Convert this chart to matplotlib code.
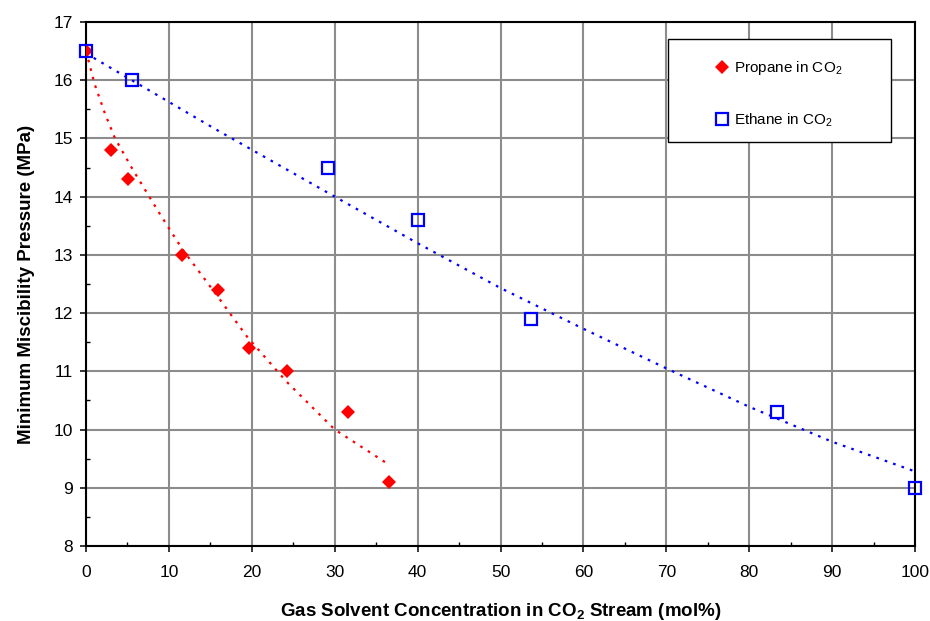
import matplotlib
matplotlib.use("Agg")
import matplotlib.pyplot as plt
from matplotlib.patches import Rectangle
from matplotlib.ticker import MultipleLocator

plt.rcParams['font.family'] = ['Liberation Sans', 'DejaVu Sans']
plt.rcParams['mathtext.fontset'] = 'custom'
plt.rcParams['mathtext.rm'] = 'Liberation Sans'
plt.rcParams['mathtext.it'] = 'Liberation Sans:italic'
plt.rcParams['mathtext.bf'] = 'Liberation Sans:bold'

# Propane in CO2: measured MMP
propane_x = [0.0, 3.0, 5.1, 11.6, 15.9, 19.6, 24.2, 31.6, 36.6]
propane_y = [16.5, 14.8, 14.3, 13.0, 12.4, 11.4, 11.0, 10.3, 9.1]

# Ethane in CO2: measured MMP
ethane_x = [0.0, 5.5, 29.2, 40.0, 53.7, 83.4, 100.0]
ethane_y = [16.5, 16.0, 14.5, 13.6, 11.9, 10.3, 9.0]

# Trend curves
propane_trend_x = [0.0, 1.0, 2.3, 3.5, 5.7, 8.7, 11.6, 15.8, 19.5, 24.2, 30.0, 36.5]
propane_trend_y = [16.5, 15.95, 15.42, 15.0, 14.45, 13.75, 13.1, 12.3, 11.58, 10.82, 10.0, 9.4]

ethane_trend_x = [0.0, 15.6, 30.0, 40.0, 50.0, 60.0, 70.0, 80.0, 90.0, 100.0]
ethane_trend_y = [16.46, 15.16, 14.0, 13.2, 12.43, 11.73, 11.05, 10.39, 9.79, 9.28]

x_ticks = list(range(0, 101, 10))
y_ticks = list(range(8, 18))

fig = plt.figure(figsize=(9.3, 6.21), dpi=100)
ax = fig.add_axes([0.0925, 0.1208, 0.8915, 0.8438])

dots = (0, (1.2, 2.8))
ax.plot(propane_trend_x, propane_trend_y, linestyle=dots, color='red',
        linewidth=1.6, zorder=3)
ax.plot(ethane_trend_x, ethane_trend_y, linestyle=dots, color='blue',
        linewidth=1.6, zorder=3)

ax.plot(propane_x, propane_y, linestyle='none', marker='D', color='red',
        markersize=7, markeredgewidth=0, label='Propane in CO$_2$', zorder=4)
ax.plot(ethane_x, ethane_y, linestyle='none', marker='s', markerfacecolor='none',
        markeredgecolor='blue', markersize=9, markeredgewidth=1.6,
        label='Ethane in CO$_2$', zorder=5, clip_on=False)

ax.set_xlim(0, 100)
ax.set_ylim(8, 17)
ax.set_xticks(x_ticks)
ax.set_yticks(y_ticks)
ax.xaxis.set_minor_locator(MultipleLocator(5))
ax.yaxis.set_minor_locator(MultipleLocator(0.5))
ax.tick_params(axis='both', which='major', direction='out', length=4.5, width=1.1,
               labelsize=12.5, colors='black')
ax.tick_params(axis='x', which='major', pad=9)
ax.tick_params(axis='y', which='major', pad=5)
ax.tick_params(axis='both', which='minor', direction='in', length=3, width=1)
ax.grid(True, which='major', color='#8c8c8c', linewidth=1.5)
ax.set_axisbelow(True)
for s in ax.spines.values():
    s.set_linewidth(1.5)
    s.set_color('black')

ax.set_xlabel('Gas Solvent Concentration in CO$_\\mathbf{2}$ Stream (mol%)',
              fontsize=13.5, fontweight='bold', labelpad=15)
ax.set_ylabel('Minimum Miscibility Pressure (MPa)', fontsize=13.5,
              fontweight='bold', labelpad=13)

# legend box
ax.add_patch(Rectangle((0.702, 0.771), 0.269, 0.1966, transform=ax.transAxes,
                       facecolor='white', edgecolor='black', linewidth=1.0,
                       zorder=9))
leg = ax.legend(loc='upper left', bbox_to_anchor=(0.758, 0.929), fontsize=11,
                frameon=False, borderpad=0, labelspacing=2.25, handletextpad=0.25,
                handlelength=1.0, borderaxespad=0)
leg.set_zorder(10)

fig.savefig('out.png', dpi=100)
